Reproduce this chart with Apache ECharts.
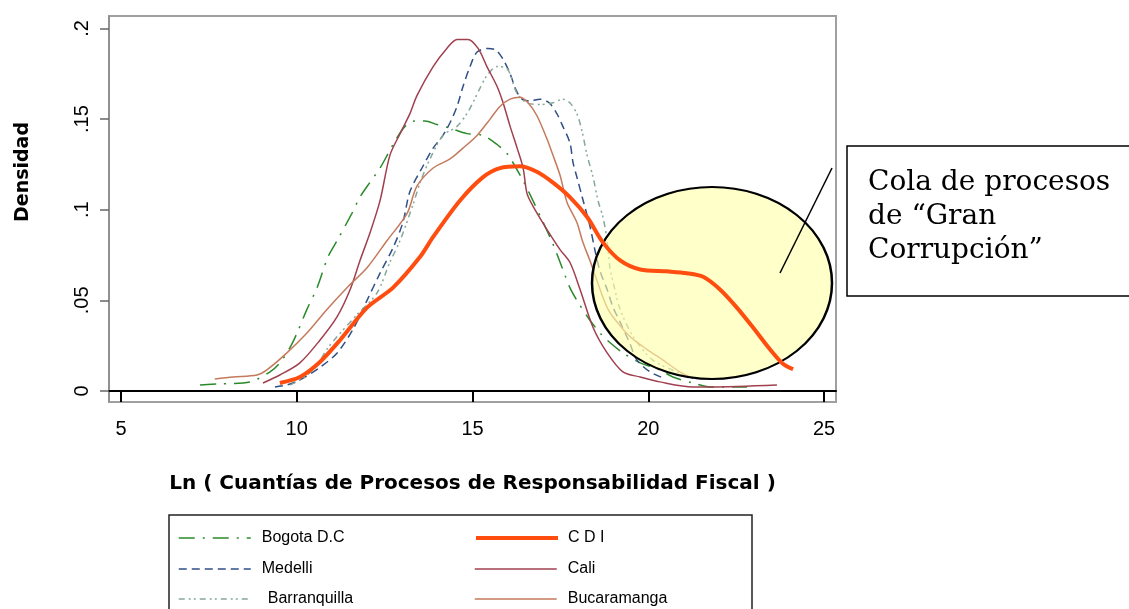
<!DOCTYPE html>
<html>
<head>
<meta charset="utf-8">
<script src="https://cdn.jsdelivr.net/npm/echarts@6/dist/echarts.min.js"></script>
<style>
  html, body { margin: 0; padding: 0; background: #fff; }
  #chart { width: 1129px; height: 609px; }
</style>
</head>
<body>
<div id="chart"></div>
<script>
// ---- Data (x = ln amount, y = density) ----
const xTickValues = [5, 10, 15, 20, 25];
const yTickValues = [0, 0.05, 0.1, 0.15, 0.2];
const yTickLabels = ['0', '.05', '.1', '.15', '.2'];

const seriesNames = ['Bogota D.C', 'Medelli', 'Barranquilla', 'C D I', 'Cali', 'Bucaramanga'];

const bogota = [
  [7.25,0.0033],[7.82,0.0039],[8.67,0.005],[9.24,0.0105],[9.52,0.0155],[9.81,0.024],
  [10.01,0.032],[10.29,0.045],[10.58,0.057],[10.89,0.074],[11.15,0.083],[11.57,0.098],
  [11.80,0.107],[12.08,0.115],[12.37,0.123],[12.60,0.131],[12.80,0.138],[13.08,0.146],
  [13.36,0.149],[13.65,0.149],[13.99,0.147],[14.36,0.145],[14.84,0.142],[15.30,0.141],
  [15.70,0.136],[15.98,0.131],[16.12,0.127],[16.44,0.116],[16.72,0.105],[17.01,0.093],
  [17.29,0.081],[17.57,0.067],[17.77,0.057],[17.97,0.050],[18.34,0.039],[18.63,0.032],
  [18.83,0.028],[19.28,0.021],[19.77,0.0155],[20.33,0.0116],[20.70,0.0077],[21.27,0.0044],
  [21.76,0.0022],[22.81,0.0022]
];

const medelli = [
  [9.38,0.0022],[9.72,0.0033],[10.09,0.0061],[10.66,0.013],[11.15,0.021],[11.60,0.034],
  [12.00,0.050],[12.37,0.065],[12.74,0.079],[13.02,0.093],[13.22,0.110],[13.59,0.124],
  [13.88,0.134],[14.16,0.141],[14.36,0.148],[14.56,0.157],[14.73,0.168],[14.93,0.179],
  [15.13,0.187],[15.44,0.189],[15.67,0.188],[15.87,0.183],[16.07,0.175],[16.24,0.166],
  [16.41,0.161],[16.64,0.160],[16.92,0.161],[17.18,0.159],[17.40,0.153],[17.57,0.146],
  [17.77,0.137],[17.86,0.126],[17.97,0.118],[18.12,0.107],[18.34,0.091],[18.49,0.077],
  [18.63,0.066],[18.83,0.056],[19.00,0.046],[19.20,0.038],[19.48,0.026],[19.68,0.017],
  [20.05,0.0105],[20.42,0.0072]
];

const barranquilla = [
  [9.81,0.0033],[10.23,0.0077],[10.58,0.0143],[10.86,0.023],[11.15,0.030],[11.71,0.042],
  [12.28,0.054],[12.65,0.071],[12.94,0.083],[13.31,0.103],[13.51,0.115],[13.79,0.128],
  [14.16,0.141],[14.56,0.146],[14.84,0.153],[15.01,0.159],[15.21,0.167],[15.41,0.174],
  [15.70,0.179],[15.98,0.178],[16.27,0.164],[16.55,0.159],[16.92,0.158],[17.29,0.159],
  [17.57,0.161],[17.77,0.159],[17.97,0.153],[18.12,0.143],[18.26,0.130],[18.43,0.118],
  [18.57,0.105],[18.71,0.096],[18.83,0.083],[18.91,0.068],[19.05,0.056],[19.20,0.045],
  [19.57,0.030],[20.13,0.017],[20.82,0.0105],[21.39,0.0061]
];

const cdi = [
  [9.52,0.0044],[10.09,0.0077],[10.66,0.016],[11.23,0.028],[12.00,0.046],[12.74,0.057],
  [13.51,0.074],[13.88,0.085],[14.64,0.105],[15.30,0.118],[15.78,0.123],[16.35,0.124],
  [16.83,0.121],[17.29,0.115],[17.77,0.107],[18.26,0.096],[18.71,0.082],[19.20,0.072],
  [19.77,0.067],[20.53,0.066],[21.10,0.065],[21.56,0.063],[22.04,0.056],[22.52,0.046],
  [22.98,0.035],[23.46,0.023],[23.83,0.015],[24.12,0.012]
];

const cali = [
  [9.04,0.0044],[9.52,0.0088],[10.09,0.0155],[10.66,0.028],[11.15,0.041],[11.52,0.056],
  [11.80,0.072],[12.08,0.087],[12.37,0.105],[12.65,0.130],[12.94,0.142],[13.22,0.153],
  [13.42,0.163],[13.88,0.179],[14.27,0.189],[14.56,0.194],[14.87,0.194],[15.16,0.189],
  [15.41,0.179],[15.70,0.168],[15.87,0.159],[16.07,0.146],[16.27,0.134],[16.44,0.123],
  [16.55,0.109],[16.72,0.102],[17.12,0.089],[17.49,0.078],[17.77,0.071],[18.06,0.056],
  [18.43,0.035],[18.83,0.021],[19.28,0.0105],[19.77,0.0077],[20.33,0.005],[21.27,0.0022],
  [21.76,0.0022],[23.66,0.0033]
];

const bucaramanga = [
  [7.67,0.0066],[8.19,0.0077],[8.87,0.0088],[9.15,0.0116],[9.72,0.021],[10.29,0.032],
  [10.86,0.045],[11.43,0.057],[12.00,0.068],[12.57,0.083],[13.14,0.098],[13.42,0.113],
  [13.88,0.123],[14.36,0.128],[14.73,0.134],[15.13,0.141],[15.50,0.150],[15.78,0.157],
  [16.07,0.161],[16.35,0.162],[16.58,0.159],[16.83,0.152],[17.12,0.139],[17.29,0.130],
  [17.49,0.119],[17.69,0.104],[17.97,0.093],[18.14,0.082],[18.34,0.072],[18.54,0.061],
  [18.83,0.046],[19.11,0.038],[19.48,0.030],[19.96,0.023],[20.42,0.017],[20.90,0.0105],
  [21.19,0.0077]
];

const annotationLines = ['Cola de procesos', 'de \u201CGran', 'Corrupci\u00F3n\u201D'];

// ---- Chart ----
const chart = echarts.init(document.getElementById('chart'), null, { renderer: 'canvas' });

const sansFont = 'Liberation Sans, Arial, sans-serif';

function lineSeries(name, data, color, width, type, z) {
  return {
    name: name,
    type: 'line',
    data: data,
    symbol: 'none',
    smooth: 0.3,
    z: z,
    lineStyle: { color: color, width: width, type: type },
    itemStyle: { color: color }
  };
}

// one legend entry per box cell: [name, left, rowCenterY, sampleWidth, textPad, sampleLineWidth]
const legendCells = [
  [seriesNames[0], 178, 540, 72, 6, 1.5],
  [seriesNames[1], 178, 571, 72, 6, 1.5],
  [seriesNames[2], 178, 601, 72, 12, 1.5],
  [seriesNames[3], 474, 540, 82, 5, 4],
  [seriesNames[4], 474, 571, 82, 6, 1.5],
  [seriesNames[5], 474, 601, 82, 6, 1.5]
];

const legends = legendCells.map(function (c) {
  return {
    data: [c[0]],
    left: c[1], top: c[2] - 10,
    padding: 0,
    itemWidth: c[3], itemHeight: 20,
    selectedMode: false,
    itemStyle: { opacity: 0 },
    lineStyle: { width: c[5] },
    textStyle: { fontFamily: sansFont, fontSize: 16, color: '#000', padding: [0, 0, 0, c[4]] }
  };
});

const option = {
  backgroundColor: '#ffffff',
  animation: false,
  grid: {
    left: 109, right: 293, top: 16, bottom: 207,
    show: true, borderColor: '#a0a0a0', borderWidth: 2, backgroundColor: '#ffffff'
  },
  xAxis: {
    type: 'value',
    min: 4.66, max: 25.34,
    name: 'Ln ( Cuant\u00EDas de Procesos de Responsabilidad Fiscal )',
    nameLocation: 'middle',
    nameGap: 72,
    nameTextStyle: { fontFamily: 'DejaVu Sans', fontWeight: 'bold', fontSize: 20, color: '#000' },
    axisLine: { show: true, lineStyle: { color: '#000', width: 2 } },
    axisTick: { show: true, customValues: xTickValues, length: 11, lineStyle: { color: '#000', width: 2 } },
    axisLabel: { customValues: xTickValues, margin: 17, fontFamily: sansFont, fontSize: 20, color: '#000' },
    splitLine: { show: false }
  },
  yAxis: {
    type: 'value',
    min: -0.0061, max: 0.2069,
    axisLine: { show: true, lineStyle: { color: '#8c8c8c', width: 1.5 } },
    axisTick: { show: true, customValues: yTickValues, length: 9, lineStyle: { color: '#666', width: 1.5 } },
    axisLabel: {
      customValues: yTickValues, rotate: 90, margin: 17,
      fontFamily: sansFont, fontSize: 20, color: '#000',
      formatter: function (v) {
        const i = yTickValues.findIndex(function (t) { return Math.abs(t - v) < 1e-9; });
        return i >= 0 ? yTickLabels[i] : '';
      }
    },
    splitLine: { show: false }
  },
  legend: legends,
  series: [
    lineSeries(seriesNames[0], bogota, '#2a8a2a', 1.5, [16, 8, 2, 8], 3),
    lineSeries(seriesNames[1], medelli, '#2f4f86', 1.5, [8, 5], 3),
    lineSeries(seriesNames[2], barranquilla, '#86a898', 1.5, [6, 4, 2, 3, 2, 4], 3),
    lineSeries(seriesNames[4], cali, '#a0404f', 1.5, 'solid', 3),
    lineSeries(seriesNames[5], bucaramanga, '#c47a5c', 1.5, 'solid', 3),
    lineSeries(seriesNames[3], cdi, '#ff4d10', 4, 'solid', 6)
  ],
  graphic: [
    {
      type: 'text',
      left: 14, top: 122,
      rotation: Math.PI / 2,
      style: { text: 'Densidad', font: 'bold 19px "DejaVu Sans"', fill: '#000' },
      z: 10
    },
    {
      type: 'circle',
      shape: { cx: 0, cy: 0, r: 96 },
      x: 712, y: 283, scaleX: 1.25, scaleY: 1,
      style: { fill: 'rgba(255,255,170,0.62)', stroke: '#000', lineWidth: 2, strokeNoScale: true },
      z: 5
    },
    {
      type: 'line',
      shape: { x1: 780, y1: 273, x2: 832, y2: 168 },
      style: { stroke: '#000', lineWidth: 1.5 },
      z: 21
    },
    {
      type: 'rect',
      shape: { x: 847, y: 146, width: 300, height: 150 },
      style: { fill: '#fff', stroke: '#000', lineWidth: 1.5 },
      z: 20
    },
    {
      type: 'text',
      x: 868, y: 166,
      style: {
        text: annotationLines.join('\n'),
        font: '28px "DejaVu Serif"', fill: '#000', lineHeight: 34
      },
      z: 21
    },
    {
      type: 'rect',
      shape: { x: 169, y: 515, width: 583, height: 110 },
      style: { fill: 'none', stroke: '#222', lineWidth: 1.5 },
      z: 1
    }
  ]
};

chart.setOption(option);
</script>
</body>
</html>
